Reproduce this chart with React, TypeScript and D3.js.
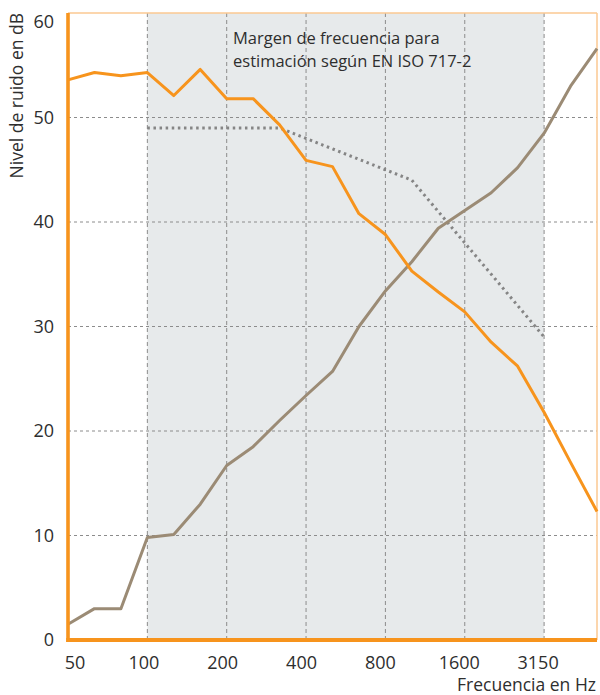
import React from 'react';
import * as d3 from 'd3';

// third-octave bands, 50 Hz .. 5000 Hz
const bands = ['50', '63', '80', '100', '125', '160', '200', '250', '315', '400', '500', '630', '800', '1000', '1250', '1600', '2000', '2500', '3150', '4000', '5000'];
// orange: measured noise level (dB)
const noiseLevel = [53.6, 54.3, 54.0, 54.3, 52.1, 54.6, 51.8, 51.8, 49.3, 45.9, 45.3, 40.8, 38.8, 35.3, 33.3, 31.4, 28.5, 26.2, 21.8, 17.0, 12.3];
// brown: background level (dB)
const backgroundLevel = [1.5, 3.0, 3.0, 9.8, 10.1, 13.0, 16.7, 18.5, 21.0, 23.4, 25.7, 30.0, 33.4, 36.2, 39.4, 41.1, 42.8, 45.2, 48.5, 53.0, 56.6];
// dotted: shifted reference curve EN ISO 717-2, 100 .. 3150 Hz
const refStart = 3;
const referenceCurve = [49, 49, 49, 49, 49, 49, 48, 47, 46, 45, 44, 41, 38, 35, 32, 29];
const tickBands = ['50', '100', '200', '400', '800', '1600', '3150'];
const yTicks = [0, 10, 20, 30, 40, 50, 60];

const W = 600;
const H = 695;
const left = 68;
const right = 597;
const top = 13;
const bottom = 640;
const font = '"Open Sans", sans-serif';
const orange = '#f7941d';
const ink = '#2e2e2e';

export default function App() {
  const x = d3.scaleLinear().domain([0, bands.length - 1]).range([left, right]);
  const y = d3.scaleLinear().domain([0, 60]).range([bottom, top]);

  const line = d3.line<number>().x((_, i) => x(i)).y(d => y(d));
  const refLine = d3.line<number>().x((_, i) => x(i + refStart)).y(d => y(d));

  const shadeX0 = x(bands.indexOf('100'));
  const shadeX1 = x(bands.indexOf('3150'));

  return (
    <svg width={W} height={H} style={{ position: 'absolute', left: 0, top: 0, display: 'block' }} fontFamily={font}>
      <rect x={shadeX0} y={top} width={shadeX1 - shadeX0} height={bottom - top} fill="#e7eaeb" />

      {/* grid */}
      {yTicks.filter(t => t > 0 && t < 60).map(t => (
        <line key={'h' + t} x1={left} x2={right} y1={y(t)} y2={y(t)} stroke="#8c8c8c" strokeWidth={1} strokeDasharray="3,3" />
      ))}
      {tickBands.slice(1).map(b => (
        <line key={'v' + b} x1={x(bands.indexOf(b))} x2={x(bands.indexOf(b))} y1={top} y2={bottom} stroke="#8c8c8c" strokeWidth={1} strokeDasharray="4,3" />
      ))}

      {/* frame top / right */}
      <line x1={left} x2={right} y1={top} y2={top} stroke="#fbc892" strokeWidth={1.5} />
      <line x1={right} x2={right} y1={top} y2={bottom} stroke="#fbc892" strokeWidth={1.5} />

      <text x={233} y={44} fontSize={16.5} fill={ink}>Margen de frecuencia para</text>
      <text x={233} y={66.5} fontSize={16.5} fill={ink}>estimación según EN ISO 717-2</text>

      <path d={refLine(referenceCurve) || ''} fill="none" stroke="#858585" strokeWidth={3} strokeDasharray="2.5,3.6" />
      <path d={line(backgroundLevel) || ''} fill="none" stroke="#9b8b75" strokeWidth={3} strokeLinejoin="round" />
      <path d={line(noiseLevel) || ''} fill="none" stroke={orange} strokeWidth={3} strokeLinejoin="round" />

      {/* axes */}
      <line x1={left} x2={left} y1={top} y2={bottom + 2} stroke={orange} strokeWidth={3.6} />
      <line x1={left - 1.8} x2={right} y1={bottom} y2={bottom} stroke={orange} strokeWidth={3.8} />

      {yTicks.map(t => (
        <text key={'yl' + t} x={54} y={t === 60 ? y(t) + 8.5 : y(t)} dy="0.36em" textAnchor="end" fontSize={18} fill={ink}>{t}</text>
      ))}
      {tickBands.map((b, i) => (
        <text key={'xl' + b} x={i === 0 ? 75 : x(bands.indexOf(b)) - 3 - i * 0.5} y={669} textAnchor="middle" fontSize={18} fill={ink}>{b}</text>
      ))}

      <text x={596} y={691} textAnchor="end" fontSize={17.5} fill={ink}>Frecuencia en Hz</text>
      <text transform="translate(23,13) rotate(-90)" textAnchor="end" fontSize={17.5} fill={ink}>Nivel de ruido en dB</text>
    </svg>
  );
}
